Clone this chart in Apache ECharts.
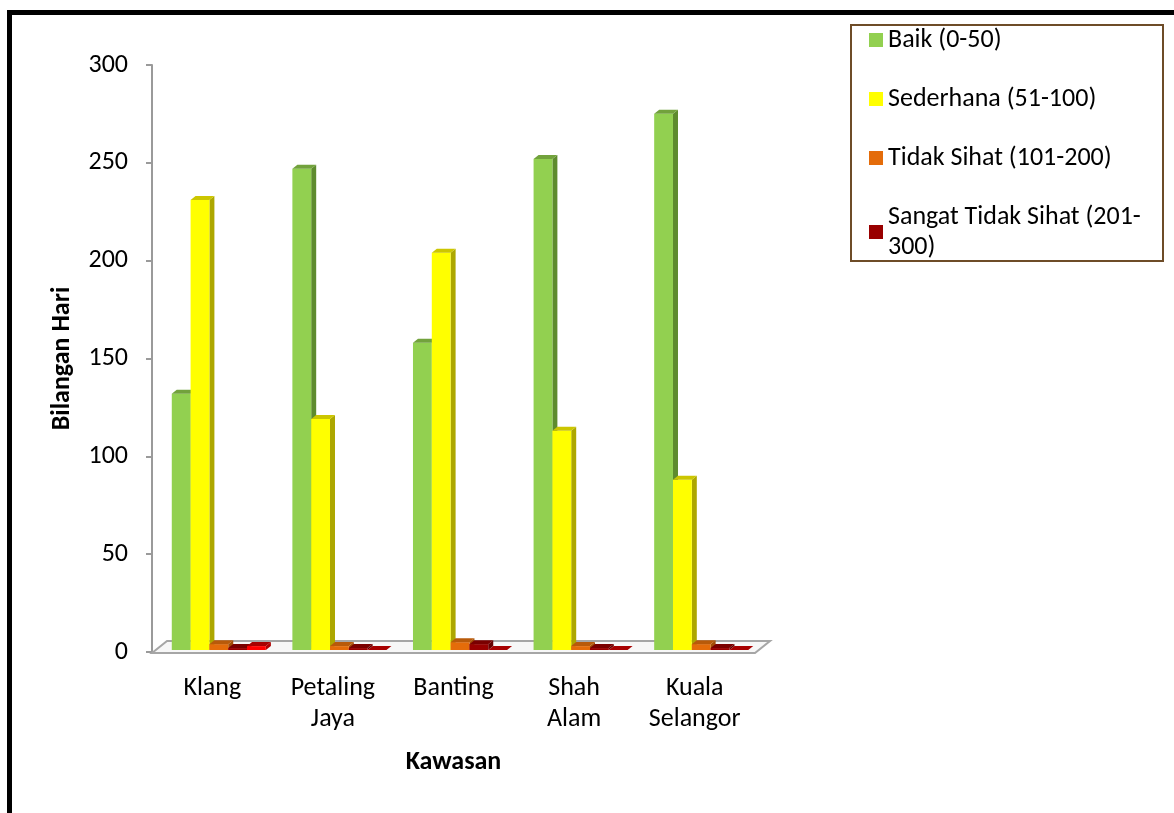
<!DOCTYPE html>
<html>
<head>
<meta charset="utf-8">
<script src="https://cdn.jsdelivr.net/npm/echarts@6/dist/echarts.min.js"></script>
<style>
html,body{margin:0;padding:0;background:#fff;}
#chart{width:1174px;height:813px;}
</style>
</head>
<body>
<div id="chart"></div>
<script>
const categories = ['Klang', 'Petaling Jaya', 'Banting', 'Shah Alam', 'Kuala Selangor'];
const seriesNames = ['Baik (0-50)', 'Sederhana (51-100)', 'Tidak Sihat (101-200)', 'Sangat Tidak Sihat (201-300)', 'Berbahaya (>300)'];
const baik = [131, 246, 157, 251, 274];
const sederhana = [230, 118, 203, 112, 87];
const tidakSihat = [3, 2, 4, 2, 3];
const sangatTidakSihat = [1, 1, 3, 1, 1];
const berbahaya = [2, 0, 0, 0, 0];
const legendNames = ['Baik (0-50)', 'Sederhana (51-100)', 'Tidak Sihat (101-200)', 'Sangat Tidak Sihat (201-300)'];

const FONT = 'Carlito, Lato, "Open Sans", sans-serif';
const palettes = [
  {front: '#92D050', side: '#5E8B2E', top: '#72A23C'},
  {front: '#FFFF00', side: '#ADA700', top: '#CCC600'},
  {front: '#E46C0A', side: '#A34D07', top: '#B85A0A'},
  {front: '#990000', side: '#660000', top: '#7A0000'},
  {front: '#FF0000', side: '#B00000', top: '#A80000'}
];
const allValues = [baik, sederhana, tidakSihat, sangatTidakSihat, berbahaya];

function render3D(k, cols) {
  return function (params, api) {
    const ci = api.value(0), v = api.value(1);
    const p0 = api.coord([ci, 0]);
    const p1 = api.coord([ci, v]);
    const band = api.size([1, 0])[0];
    const bw = band * 0.156;
    const x = p0[0] - 2.5 * bw + band * 0.054 + k * bw;
    const yb = p0[1] - 2, yt = p1[1] - 2;
    const dx = 5, dy = 4;
    return {
      type: 'group',
      children: [
        {type: 'polygon', shape: {points: [[x + bw, yb], [x + bw + dx, yb - dy], [x + bw + dx, yt - dy], [x + bw, yt]]}, style: {fill: cols.side}},
        {type: 'rect', shape: {x: x, y: yt, width: bw, height: yb - yt}, style: {fill: cols.front}},
        {type: 'polygon', shape: {points: [[x, yt], [x + dx, yt - dy], [x + bw + dx, yt - dy], [x + bw, yt]]}, style: {fill: cols.top}}
      ]
    };
  };
}

const series = allValues.map((vals, k) => ({
  type: 'custom',
  name: seriesNames[k],
  renderItem: render3D(k, palettes[k]),
  itemStyle: {color: palettes[k].front},
  encode: {x: 0, y: 1},
  data: vals.map((v, i) => [i, v]),
  z: 3
}));

const chart = echarts.init(document.getElementById('chart'), null, {renderer: 'canvas'});
chart.setOption({
  animation: false,
  backgroundColor: '#ffffff',
  grid: {left: 152, right: 419, top: 65, bottom: 161},
  legend: {
    data: legendNames,
    orient: 'vertical',
    left: 869,
    top: 25,
    padding: 0,
    icon: 'rect',
    itemWidth: 14,
    itemHeight: 14,
    itemGap: 29,
    textStyle: {fontSize: 26, lineHeight: 30, color: '#000', fontFamily: FONT},
    formatter: function (name) {
      return name === 'Sangat Tidak Sihat (201-300)' ? 'Sangat Tidak Sihat (201-\n300)' : name;
    }
  },
  xAxis: {
    type: 'category',
    data: categories,
    axisLine: {show: false},
    axisTick: {show: false},
    axisLabel: {
      fontSize: 26, lineHeight: 31, color: '#000', fontFamily: FONT, margin: 21, interval: 0,
      formatter: function (v) { return v.replace(' ', '\n'); }
    },
    name: 'Kawasan',
    nameLocation: 'middle',
    nameGap: 97,
    nameTextStyle: {fontSize: 26, fontWeight: 'bold', color: '#000', fontFamily: FONT}
  },
  yAxis: {
    type: 'value',
    min: 0,
    max: 300,
    interval: 50,
    axisLine: {show: true, lineStyle: {color: '#9A9A9A', width: 2}},
    axisTick: {show: true, length: 6, lineStyle: {color: '#9A9A9A', width: 2}},
    splitLine: {show: false},
    axisLabel: {fontSize: 26, color: '#000', fontFamily: FONT, margin: 24},
    name: 'Bilangan Hari',
    nameLocation: 'middle',
    nameGap: 77,
    nameTextStyle: {fontSize: 26, fontWeight: 'bold', color: '#000', fontFamily: FONT}
  },
  graphic: [
    {type: 'polygon', z: 1, shape: {points: [[152, 653], [167, 641], [770, 641], [755, 653]]},
      style: {fill: '#F7F7F7', stroke: '#A6A6A6', lineWidth: 2}},
    {type: 'rect', z: 5, shape: {x: 851, y: 25, width: 312, height: 236},
      style: {fill: null, stroke: '#6E4C28', lineWidth: 2}},
    {type: 'line', z: 5, shape: {x1: 7, y1: 12.5, x2: 1174, y2: 12.5}, style: {stroke: '#000', lineWidth: 5}},
    {type: 'line', z: 5, shape: {x1: 9.5, y1: 10, x2: 9.5, y2: 813}, style: {stroke: '#000', lineWidth: 5}}
  ],
  series: series
});
</script>
</body>
</html>
